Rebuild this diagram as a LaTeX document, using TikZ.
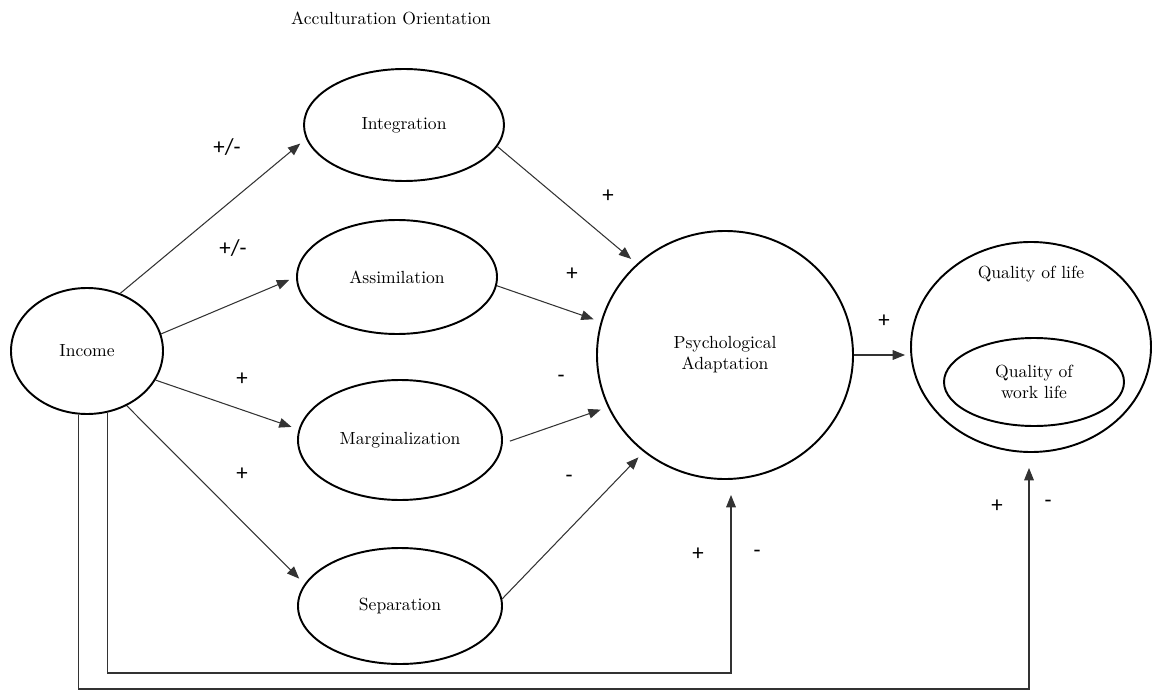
\documentclass[tikz,border=0pt]{standalone}
\usepackage{fontspec}
\newfontfamily\signfont{Carlito}
\usetikzlibrary{shapes.geometric,arrows.meta,positioning,calc}

\begin{document}
\begin{tikzpicture}[
  oval/.style={draw, ellipse, line width=1.1pt, inner sep=0pt, align=center},
  orient/.style={oval, minimum width=4cm, minimum height=2.3cm},
  ptr/.style={-{Triangle[length=7pt,width=5.5pt]}, line width=0.6pt, black!80, shorten >=0.15cm},
  feedback/.style={ptr, shorten >=0.3cm},
  sign/.style={font=\signfont\fontsize{13}{15}\selectfont}
]
\useasboundingbox (0,0) rectangle (23.04,-13.86);
\node (title) at (7.82,-0.36) {Acculturation Orientation};
% nodes
\node[oval, minimum width=3.04cm, minimum height=2.52cm] (income) at (1.74,-7.02) {Income};
\node[orient, minimum height=2.24cm] (integ) at (8.08,-2.5) {Integration};
\node[orient, minimum height=2.28cm] (assim) at (7.94,-5.54) {Assimilation};
\node[orient, minimum width=4.08cm, minimum height=2.4cm] (margin) at (8,-8.8) {Marginalization};
\node[orient, minimum width=4.08cm, minimum height=2.32cm] (separ) at (8,-12.12) {Separation};
\node[oval, minimum width=5.12cm, minimum height=4.96cm] (psych) at (14.5,-7.1) {Psychological\\Adaptation};
\node[oval, minimum width=4.8cm, minimum height=4.2cm] (qol) at (20.62,-6.94) {};
\node (qoltxt) at (20.62,-5.48) {Quality of life};
\node[oval, minimum width=3.6cm, minimum height=1.76cm] (qwl) at (20.68,-7.64) {Quality of\\work life};
% arrows
\draw[ptr] (income.60) -- (integ.188);
\draw[ptr] (income.13) -- (assim.west);
\draw[ptr] (income.-23) -- (margin.174);
\draw[ptr] (income.-54) -- (separ.167);
\draw[ptr] (integ.-13) -- (psych.134);
\draw[ptr] (assim.-5) -- (psych.165);
\draw[ptr, shorten <=0.15cm] (margin.-2) -- (psych.204);
\draw[ptr] (separ.4) -- (psych.230);
\draw[ptr, shorten >=0.1cm] (psych.east) -- (psych.east -| qol.west);
\coordinate (bend1) at (14.62,-13.46);
\coordinate (bend2) at (20.58,-13.78);
\draw[feedback] (income.-72) |- (bend1) -- (bend1 |- psych.south);
\draw[feedback] (income.-98) |- (bend2) -- (bend2 |- qol.south);
% signs
\node[sign] (s1) at (4.54,-2.94) {+/-};
\node[sign] (s2) at (4.66,-4.96) {+/-};
\node[sign] (s3) at (4.84,-7.58) {+};
\node[sign] (s4) at (4.84,-9.48) {+};
\node[sign] (s5) at (12.16,-3.92) {+};
\node[sign] (s6) at (11.44,-5.48) {+};
\node[sign] (s7) at (11.22,-7.58) {-};
\node[sign] (s8) at (11.38,-9.58) {-};
\node[sign] (s9) at (13.96,-11.08) {+};
\node[sign] (s10) at (15.14,-11.08) {-};
\node[sign] (s11) at (17.68,-6.42) {+};
\node[sign] (s12) at (19.94,-10.12) {+};
\node[sign] (s13) at (20.96,-10.08) {-};
\end{tikzpicture}
\end{document}
